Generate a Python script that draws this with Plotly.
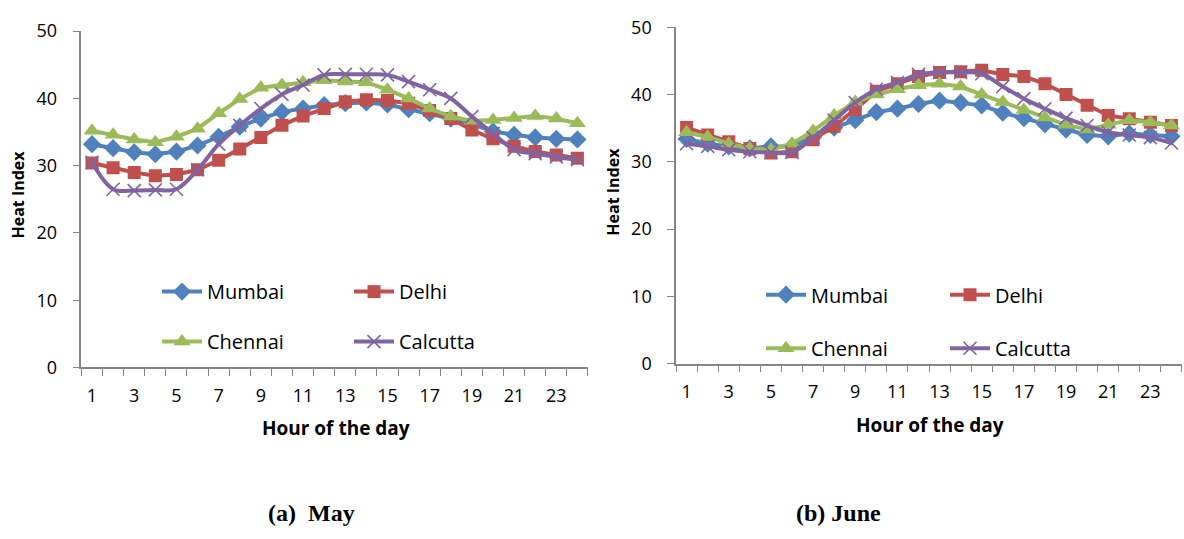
import plotly.graph_objects as go

# Hour of the day (categories 1..24)
hours = list(range(1, 25))
hour_labels = [str(h) for h in range(1, 24, 2)]

# Heat index, May
may_mumbai = [33.2, 32.6, 32.0, 31.7, 32.1, 33.0, 34.3, 35.8, 37.0, 38.0, 38.5, 39.0,
              39.3, 39.4, 39.1, 38.4, 37.8, 37.0, 36.2, 35.1, 34.6, 34.2, 34.0, 33.9]
may_delhi = [30.4, 29.7, 29.0, 28.5, 28.7, 29.4, 30.8, 32.5, 34.2, 36.0, 37.4, 38.5,
             39.5, 39.8, 39.7, 39.3, 38.2, 37.0, 35.3, 34.0, 32.9, 32.1, 31.6, 31.1]
may_chennai = [35.2, 34.6, 33.9, 33.5, 34.3, 35.5, 37.8, 39.9, 41.6, 42.0, 42.4, 42.7,
               42.5, 42.4, 41.3, 40.0, 38.5, 37.3, 36.7, 36.8, 37.1, 37.4, 37.0, 36.3]
may_calcutta = [30.5, 26.5, 26.3, 26.4, 26.5, 29.4, 33.2, 36.0, 38.5, 40.6, 42.0, 43.5,
                43.6, 43.6, 43.5, 42.5, 41.3, 40.0, 37.3, 34.8, 32.4, 31.8, 31.3, 30.9]

# Heat index, June
june_mumbai = [33.4, 32.7, 32.3, 32.0, 32.3, 32.3, 33.7, 35.1, 36.2, 37.4, 37.9, 38.6,
               39.1, 38.8, 38.4, 37.3, 36.5, 35.6, 34.8, 34.0, 33.8, 34.2, 34.0, 33.8]
june_delhi = [35.1, 34.0, 33.0, 32.0, 31.3, 31.5, 33.3, 35.3, 37.8, 40.5, 41.6, 42.7,
              43.3, 43.4, 43.6, 43.0, 42.7, 41.6, 40.0, 38.4, 36.9, 36.4, 35.9, 35.4]
june_chennai = [34.4, 33.7, 32.7, 32.0, 31.8, 32.7, 34.6, 36.9, 38.9, 40.0, 40.8, 41.4,
                41.6, 41.2, 40.0, 38.9, 37.7, 36.6, 35.5, 34.8, 35.5, 36.2, 35.9, 35.4]
june_calcutta = [32.7, 32.3, 31.8, 31.5, 31.4, 31.4, 33.6, 36.2, 38.8, 40.8, 41.8, 43.0,
                 43.3, 43.3, 43.1, 41.2, 39.4, 37.9, 36.5, 35.4, 34.4, 34.0, 33.6, 32.8]

cities = ["Mumbai", "Delhi", "Chennai", "Calcutta"]
colors = ["#4F81BD", "#C0504D", "#9BBB59", "#8064A2"]
symbols = ["diamond", "square", "triangle-up", "x-thin"]
sizes = [14, 13, 15, 13]

FONT = "Open Sans"
AXIS_COLOR = "#868686"

fig = go.Figure()

panels = [
    ([may_mumbai, may_delhi, may_chennai, may_calcutta], "x", "y", ["legend", "legend2"]),
    ([june_mumbai, june_delhi, june_chennai, june_calcutta], "x2", "y2", ["legend3", "legend4"]),
]

for series, xa, ya, legs in panels:
    for i, (name, vals) in enumerate(zip(cities, series)):
        marker = dict(symbol=symbols[i], size=sizes[i], color=colors[i])
        if symbols[i] == "x-thin":
            marker["line"] = dict(color=colors[i], width=1.6)
        fig.add_trace(go.Scatter(
            x=hours, y=vals, name=name, mode="lines+markers",
            line=dict(color=colors[i], width=4,
                      shape="spline" if name == "Calcutta" else "linear"),
            marker=marker, xaxis=xa, yaxis=ya,
            legend=legs[0] if i < 2 else legs[1],
        ))


def xaxis(domain, anchor):
    return dict(
        domain=domain, anchor=anchor, range=[0.5, 24.5], tickvals=list(range(1, 24, 2)),
        ticktext=hour_labels, ticks="", showline=True, linecolor=AXIS_COLOR, linewidth=1.5,
        showgrid=False, zeroline=False, tickfont=dict(family=FONT, size=18, color="#000"),
        ticklabelstandoff=11, fixedrange=True,
        minor=dict(tickvals=[h + 0.5 for h in range(0, 25)], ticks="outside", ticklen=7,
                   tickcolor=AXIS_COLOR, tickwidth=1.2, showgrid=False),
    )


def yaxis(domain, anchor):
    return dict(
        domain=domain, range=[0, 50], dtick=10, anchor=anchor, ticks="outside", ticklen=7,
        tickcolor=AXIS_COLOR, tickwidth=1.2, showline=True, linecolor=AXIS_COLOR,
        linewidth=1.5, showgrid=False, zeroline=False, ticklabelstandoff=12,
        tickfont=dict(family=FONT, size=18, color="#000"), fixedrange=True,
    )


def legend(x, y, entry):
    return dict(
        x=x, y=y, xanchor="left", yanchor="middle", orientation="h",
        font=dict(family=FONT, size=20, color="#000"), bgcolor="rgba(0,0,0,0)",
        entrywidth=entry, entrywidthmode="pixels", itemwidth=40, tracegroupgap=0,
    )


fig.update_layout(
    width=1184, height=539, margin=dict(l=0, r=0, t=0, b=0),
    paper_bgcolor="white", plot_bgcolor="white",
    xaxis=xaxis([0.0688, 0.4966], "y"), yaxis=yaxis([0.3117, 0.9647], "x"),
    xaxis2=xaxis([0.571, 0.9983], "y2"), yaxis2=yaxis([0.3191, 0.9722], "x2"),
    legend=legend(157 / 1184, 0.459, 137), legend2=legend(157 / 1184, 0.362, 137),
    legend3=legend(761 / 1184, 0.453, 129), legend4=legend(761 / 1184, 0.349, 129),
)

titles = [
    dict(text="<b>Heat Index</b>", x=18 / 1184, y=1 - 190 / 539, textangle=-90, size=16),
    dict(text="<b>Heat Index</b>", x=613 / 1184, y=1 - 187 / 539, textangle=-90, size=16),
    dict(text="<b>Hour of the day</b>", x=336 / 1184, y=1 - 434 / 539, textangle=0, size=19),
    dict(text="<b>Hour of the day</b>", x=930 / 1184, y=1 - 431 / 539, textangle=0, size=19),
]
for t in titles:
    size = t.pop("size")
    fig.add_annotation(xref="paper", yref="paper", xanchor="center", yanchor="middle",
                       showarrow=False, font=dict(family=FONT, size=size, color="#000"), **t)

for text, cx in [("<b>(a)  May</b>", 312), ("<b>(b) June</b>", 838)]:
    fig.add_annotation(text=text, xref="paper", yref="paper", x=cx / 1184, y=1 - 523 / 539,
                       xanchor="center", yanchor="middle", showarrow=False,
                       font=dict(family="Liberation Serif", size=24, color="#000"))

fig.write_html("out.html")
